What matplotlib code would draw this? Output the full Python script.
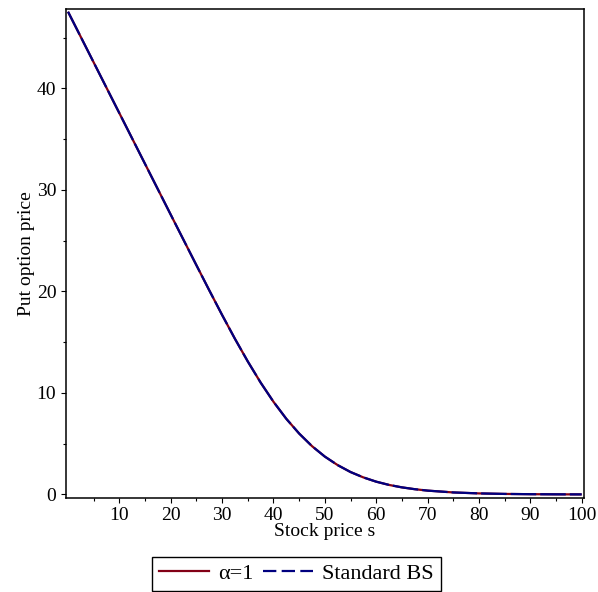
from __future__ import annotations

import matplotlib

matplotlib.use("Agg")
import matplotlib.pyplot as plt
from matplotlib.lines import Line2D


# 株価 s と プット価格
STOCK_PRICE = [
    0.0, 5.0, 10.0, 15.0, 20.0, 25.0, 27.5, 30.0, 32.5, 35.0, 37.5, 40.0,
    42.5, 45.0, 47.5, 50.0, 52.5, 55.0, 57.5, 60.0, 62.5, 65.0, 67.5, 70.0,
    75.0, 80.0, 85.0, 90.0, 95.0, 100.0,
]
PUT_ALPHA1 = [
    47.56, 42.56, 37.56, 32.56, 27.56, 22.58, 20.11, 17.68, 15.33, 13.10, 11.02, 9.13,
    7.45, 6.00, 4.76, 3.73, 2.89, 2.21, 1.68, 1.26, 0.94, 0.70, 0.52, 0.38,
    0.20, 0.105, 0.054, 0.028, 0.014, 0.007,
]
PUT_STANDARD_BS = [
    47.56, 42.56, 37.56, 32.56, 27.56, 22.58, 20.11, 17.68, 15.33, 13.10, 11.02, 9.13,
    7.45, 6.00, 4.76, 3.73, 2.89, 2.21, 1.68, 1.26, 0.94, 0.70, 0.52, 0.38,
    0.20, 0.105, 0.054, 0.028, 0.014, 0.007,
]
SERIES_LABELS = ["α=1", "Standard BS"]
X_TICKS = [10, 20, 30, 40, 50, 60, 70, 80, 90, 100]
Y_TICKS = [0, 10, 20, 30, 40]

RED = "#820016"
BLUE = "#00007F"


def main() -> None:
    plt.rcParams["font.family"] = ["Liberation Serif", "DejaVu Serif"]

    fig = plt.figure(figsize=(5.98, 5.92), dpi=100)
    ax = fig.add_axes([0.1099, 0.1596, 0.9766 - 0.1099, 0.9843 - 0.1596])

    ax.plot(STOCK_PRICE, PUT_ALPHA1, color=RED, lw=1.6, solid_capstyle="butt")
    ax.plot(
        STOCK_PRICE, PUT_STANDARD_BS, color=BLUE, lw=1.6,
        dashes=(11.5, 1.8), dash_capstyle="butt",
    )

    ax.set_xlim(-0.45, 100.45)
    ax.set_ylim(-0.3, 47.8)
    ax.set_xticks(X_TICKS)
    ax.set_yticks(Y_TICKS)
    ax.set_xticks([5, 15, 25, 35, 45, 55, 65, 75, 85, 95], minor=True)
    ax.set_yticks([5, 15, 25, 35, 45], minor=True)
    ax.tick_params(which="major", direction="out", length=3.8, width=0.8,
                   labelsize=14, color="black", pad=3)
    ax.tick_params(which="minor", direction="out", length=2.2, width=0.8, color="black")

    for spine in ax.spines.values():
        spine.set_linewidth(1.1)
        spine.set_color("black")

    ax.set_xlabel("Stock price s", fontsize=14, labelpad=-1)
    ax.set_ylabel("Put option price", fontsize=14, labelpad=1)

    # 凡例は図の下に枠付きで配置
    handles = [
        Line2D([], [], color=RED, lw=1.6),
        Line2D([], [], color=BLUE, lw=1.6, dashes=(6.0, 2.4)),
    ]
    fig.legend(
        handles, SERIES_LABELS,
        loc="center", bbox_to_anchor=(0.4958, 0.0305), ncol=2,
        fontsize=16, frameon=True, fancybox=False, framealpha=1.0,
        edgecolor="black", handlelength=2.25, handletextpad=0.4,
        columnspacing=0.45, borderpad=0.32, borderaxespad=0.0,
    ).get_frame().set_linewidth(1.0)

    fig.savefig("out.png", dpi=100)
    plt.close(fig)


if __name__ == "__main__":
    main()
